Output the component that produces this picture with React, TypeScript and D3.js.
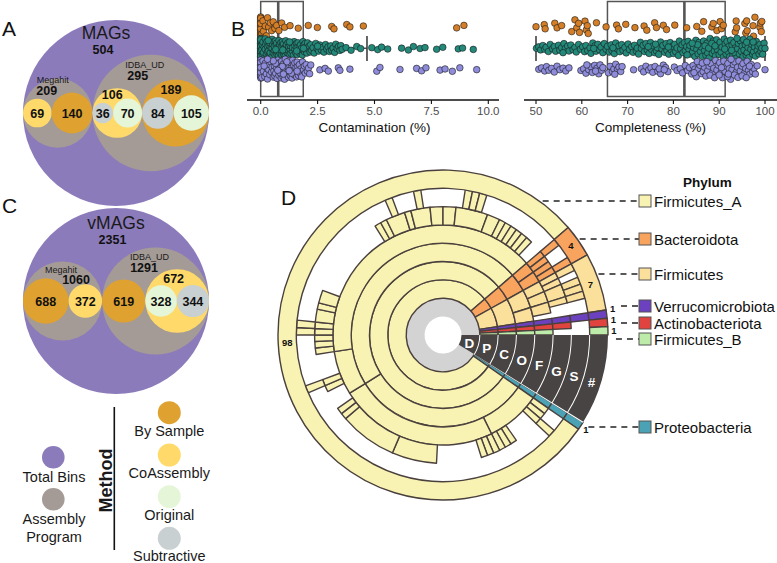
import React from 'react';
import * as d3 from 'd3';

const FONT = "'Liberation Sans', Arial, Helvetica, sans-serif";

// ================= Panels A & C : circle packs =================
const methodColors: Record<string, string> = {
  'By Sample': '#DFA130',
  'CoAssembly': '#FFDA6A',
  'Original': '#E5F6D8',
  'Subtractive': '#C9D0D1',
};
const totalColor = '#8C7BBB';
const programColor = '#A59B96';

const magsMegahit: [string, number][] = [['CoAssembly', 69], ['By Sample', 140]];
const magsIdbaCoAssembly: [string, number][] = [['Subtractive', 36], ['Original', 70]];
const magsIdbaBySample: [string, number][] = [['Subtractive', 84], ['Original', 105]];

const vmagsMegahit: [string, number][] = [['By Sample', 688], ['CoAssembly', 372]];
const vmagsIdbaBySample = 619;
const vmagsIdbaCoAssembly: [string, number][] = [['Original', 328], ['Subtractive', 344]];

const leaf = (key: string, method: string, value: number) => ({ key, kind: 'method', method, value });

const magsTree = {
  key: 'root', kind: 'total', name: 'MAGs',
  children: [
    { key: 'megahit', kind: 'program', name: 'Megahit', children: magsMegahit.map(([m, v], i) => leaf('mh' + i, m, v)) },
    {
      key: 'idba', kind: 'program', name: 'IDBA_UD', children: [
        { key: 'idbaCo', kind: 'method', method: 'CoAssembly', children: magsIdbaCoAssembly.map(([m, v], i) => leaf('ic' + i, m, v)) },
        { key: 'idbaBS', kind: 'method', method: 'By Sample', children: magsIdbaBySample.map(([m, v], i) => leaf('ib' + i, m, v)) },
      ],
    },
  ],
};

const vmagsTree = {
  key: 'root', kind: 'total', name: 'vMAGs',
  children: [
    { key: 'megahit', kind: 'program', name: 'Megahit', children: vmagsMegahit.map(([m, v], i) => leaf('mh' + i, m, v)) },
    {
      key: 'idba', kind: 'program', name: 'IDBA_UD', children: [
        leaf('idbaBS', 'By Sample', vmagsIdbaBySample),
        { key: 'idbaCo', kind: 'method', method: 'CoAssembly', children: vmagsIdbaCoAssembly.map(([m, v], i) => leaf('ic' + i, m, v)) },
      ],
    },
  ],
};

// label offsets (layout only)
const magsLabelPos: Record<string, any> = {
  root: { title: [-10, -74], count: [-13, -59] },
  megahit: { title: [-5, -30], count: [-11, -18] },
  idba: { title: [-6, -45], count: [-13, -33] },
  idbaCo: { count: [-5, -14] },
  idbaBS: { count: [-4.5, -19] },
};
const vmagsLabelPos: Record<string, any> = {
  root: { title: [0, -72], count: [-3.5, -57.5] },
  megahit: { title: [-1.5, -28], count: [13.5, -17] },
  idba: { title: [-6, -41.5], count: [-11.5, -29] },
  idbaCo: { count: [-3.5, -18.5] },
};

function PackPanel({ tree, cx, cy, r, labels }: any) {
  const root = d3.hierarchy(tree).sum((d: any) => d.value ?? 0);
  d3.pack().size([2 * r, 2 * r]).padding(0)(root as any);
  const nodes: any[] = root.descendants();
  const fillOf = (d: any) =>
    d.data.kind === 'total' ? totalColor : d.data.kind === 'program' ? programColor : methodColors[d.data.method];
  return (
    <g transform={`translate(${cx - r},${cy - r})`}>
      {nodes.map((d, i) => (
        <circle key={'c' + i} cx={d.x} cy={d.y} r={d.r} fill={fillOf(d)} />
      ))}
      {nodes.map((d, i) => {
        const lp = labels[d.data.key];
        const isLeaf = !d.children;
        const out: any[] = [];
        if (isLeaf) {
          out.push(
            <text key={'l' + i} x={d.x} y={d.y + 4.5} textAnchor="middle" fontSize={12.5} fontWeight="bold" fill="#111">
              {d.value}
            </text>
          );
        } else if (lp) {
          if (lp.title && d.data.name) {
            const big = d.data.kind === 'total';
            out.push(
              <text key={'t' + i} x={d.x + lp.title[0]} y={d.y + lp.title[1]} textAnchor="middle"
                fontSize={big ? 17.5 : 9} fill="#1a1a1a">
                {d.data.name}
              </text>
            );
          }
          out.push(
            <text key={'n' + i} x={d.x + lp.count[0]} y={d.y + lp.count[1]} textAnchor="middle" fontSize={12.5}
              fontWeight="bold" fill="#111">
              {d.value}
            </text>
          );
        }
        return out;
      })}
    </g>
  );
}

// ================= Legend (bottom left) =================
const legendLeft = [
  { label: ['Total Bins'], color: totalColor },
  { label: ['Assembly', 'Program'], color: programColor },
];
const legendMethods = ['By Sample', 'CoAssembly', 'Original', 'Subtractive'];

function MethodLegend() {
  const leftY = [457.3, 499.3];
  const rightY = [412.7, 455, 496.7, 538.3];
  return (
    <g fontSize={14.5} fill="#1a1a1a">
      {legendLeft.map((d, i) => (
        <g key={i}>
          <circle cx={53.3} cy={leftY[i]} r={11.3} fill={d.color} />
          {d.label.map((t, j) => (
            <text key={j} x={54} y={leftY[i] + 24.5 + j * 18} textAnchor="middle">{t}</text>
          ))}
        </g>
      ))}
      <line x1={114.3} x2={114.3} y1={407} y2={550} stroke="#111" strokeWidth={1.6} />
      <text transform="translate(111.5,480.5) rotate(-90)" textAnchor="middle" fontSize={18} fontWeight="bold">Method</text>
      {legendMethods.map((m, i) => (
        <g key={m}>
          <circle cx={169.3} cy={rightY[i]} r={11.5} fill={methodColors[m]} />
          <text x={169.3} y={rightY[i] + 23} textAnchor="middle">{m}</text>
        </g>
      ))}
    </g>
  );
}

// ================= Panel B : strip plots =================
const rowColors = ['#D47E27', '#23897A', '#8E8CDB'];

const contamOrange = [
  0, 0, 0, 0, 0, 0, 0, 0, 0, 0, 0, 0, 0, 0, 0, 0, 0, 0, 0, 0, 0, 0, 0, 0, 0, 0,
  0.05, 0.1, 0.12, 0.2, 0.25, 0.3, 0.35, 0.42, 0.48, 0.55, 0.62, 0.7, 0.8, 0.92, 1.05, 1.29, 1.65,
  2.09, 2.49, 3.12, 3.22, 3.78, 3.92, 4.51, 8.61, 8.93,
];
const contamTeal = [
  0, 0, 0, 0, 0, 0, 0, 0, 0, 0, 0, 0, 0, 0, 0, 0, 0, 0, 0, 0,
  0, 0, 0, 0, 0, 0, 0, 0, 0, 0, 0, 0, 0, 0, 0, 0, 0, 0, 0, 0,
  0.05, 0.07, 0.1, 0.1, 0.12, 0.15, 0.17, 0.2, 0.2, 0.22, 0.25, 0.27, 0.3, 0.3, 0.32, 0.35, 0.37, 0.4, 0.4, 0.42,
  0.45, 0.47, 0.5, 0.5, 0.52, 0.55, 0.58, 0.6, 0.6, 0.63, 0.65, 0.68, 0.7, 0.7, 0.72, 0.75, 0.78, 0.8, 0.8, 0.83,
  0.85, 0.88, 0.9, 0.9, 0.93, 0.95, 0.98, 1.0, 1.0, 1.03, 1.05, 1.08, 1.1, 1.1, 1.13, 1.16, 1.2, 1.2, 1.23, 1.26,
  1.3, 1.3, 1.33, 1.36, 1.4, 1.4, 1.44, 1.47, 1.5, 1.5, 1.54, 1.57, 1.6, 1.6, 1.64, 1.67, 1.7, 1.72, 1.75, 1.78,
  1.8, 1.83, 1.86, 1.9, 1.92, 1.95, 1.98, 2.0, 2.03, 2.06, 2.1, 2.13, 2.17, 2.2, 0.33, 0.66, 0.97, 1.27, 1.58, 1.88,
  2.24, 2.3, 2.35, 2.42, 2.48, 2.55, 2.6, 2.66, 2.72, 2.78, 2.85, 2.9, 2.96, 3.02, 3.08, 3.12, 3.18, 3.25, 3.3, 3.36,
  3.42, 3.48, 3.52, 3.58, 2.5,
  3.75, 3.97, 4.22, 4.39, 4.88, 5.14, 5.31, 5.58, 6.19, 6.49, 6.71, 7.0, 7.22, 7.73, 8.0, 8.68, 8.87, 9.34,
];
const contamPurple = [
  0, 0, 0, 0, 0, 0, 0, 0, 0, 0, 0, 0, 0, 0, 0, 0, 0, 0, 0, 0, 0, 0,
  0.05, 0.1, 0.12, 0.18, 0.2, 0.25, 0.28, 0.3, 0.35, 0.38, 0.4, 0.45, 0.48, 0.5, 0.55, 0.58, 0.6, 0.62, 0.66, 0.7,
  0.72, 0.75, 0.78, 0.8, 0.83, 0.86, 0.9, 0.92, 0.95, 0.98, 1.0, 1.02, 1.05, 1.08, 1.1, 1.12, 1.15, 1.18, 1.2, 1.22,
  1.25, 1.28, 1.3, 1.33, 1.36, 1.38, 1.4, 1.42, 1.45, 1.48, 1.5, 1.52, 1.55, 1.58, 1.6, 1.63, 1.66, 1.7, 1.73, 1.76,
  1.8, 1.84, 1.88, 1.92, 1.96, 2.0, 2.05, 2.1, 2.15, 2.2, 0.65, 0.85, 1.0, 1.15, 1.35, 0.55, 0.3, 1.6, 1.25, 0.95,
  0.75, 0.15,
  2.6, 2.83, 2.97, 3.41, 3.48, 3.92, 5.1, 5.24, 6.12, 6.85, 7.07, 7.26, 7.88, 8.1, 8.42, 8.75, 9.49,
];

const complOrange = [
  50.0, 51.8, 52.0, 54.1, 54.6, 55.6, 57.8, 58.5, 58.9, 59.5, 59.3, 60.7, 61.0, 61.4, 61.2, 63.2, 65.3, 67.6, 68.0,
  69.6, 71.6, 73.6, 74.2, 75.9, 76.3, 77.8, 78.5, 80.3, 82.9, 85.1, 86.2, 86.6, 88.4, 88.7, 89.5, 90.2, 90.5, 90.9,
  93.5, 93.8, 93.7, 95.6, 96.0, 95.8, 96.1, 97.5, 97.8, 97.4, 98.9, 99.2, 99.0, 99.3,
];
const complTeal = [
  50.1, 50.6, 51.0, 51.5, 51.9, 52.2, 52.7, 53.1, 53.6, 54.0, 54.3, 54.9, 55.2, 55.6, 56.1, 56.4, 56.9, 57.2, 57.6,
  58.1, 58.5, 58.8, 59.3, 59.7, 55.9,
  60.2, 60.6, 60.9, 61.3, 61.8, 62.0, 62.4, 62.9, 63.1, 63.5, 63.9, 64.2, 64.6, 64.9, 65.3, 65.6, 66.0, 66.4, 66.6,
  67.1, 67.4, 67.7, 68.1, 68.3, 68.7, 69.0, 69.4, 69.7, 62.6, 66.8,
  70.1, 70.4, 70.9, 71.2, 71.5, 71.9, 72.1, 72.4, 72.8, 73.0, 73.4, 73.7, 74.0, 74.3, 74.7, 75.0, 75.2, 75.6, 75.9,
  76.3, 76.5, 76.8, 77.2, 77.5, 77.7, 78.1, 78.4, 78.6, 79.0, 79.3, 79.5, 79.8, 74.5, 76.1, 78.9,
  80.0, 80.3, 80.5, 80.8, 81.1, 81.3, 81.6, 81.9, 82.1, 82.4, 82.6, 82.9, 83.2, 83.4, 83.6, 83.9, 84.2, 84.4, 84.7,
  84.9, 85.1, 85.4, 85.6, 85.9, 86.1, 86.3, 86.6, 86.8, 87.1, 87.3, 87.5, 87.8, 88.0, 88.2, 88.5, 88.7, 88.9, 89.2,
  89.4, 89.6, 89.9, 83.0, 85.3, 86.9, 87.7, 88.4, 89.1, 84.1,
  90.0, 90.2, 90.4, 90.6, 90.9, 91.1, 91.3, 91.5, 91.7, 91.9, 92.1, 92.3, 92.5, 92.8, 93.0, 93.2, 93.4, 93.6, 93.8,
  94.0, 94.2, 94.4, 94.6, 94.8, 95.0, 95.2, 95.4, 95.7, 95.9, 96.1, 96.3, 96.5, 96.7, 96.9, 97.1, 97.3, 97.5, 97.7,
  97.9, 98.1, 98.3, 98.5, 98.7, 98.9, 99.1, 99.3, 99.5, 99.8, 100.0, 91.2, 92.7, 93.9, 95.3, 96.0, 97.4,
];
const complPurple = [
  50.6, 51.2, 51.9, 52.3, 52.8, 53.4, 54.0, 54.6, 55.2, 55.9, 56.5, 57.2,
  59.8, 60.4, 60.9, 61.5, 62.0, 62.3, 62.8, 63.3, 63.7, 64.0, 64.3, 64.6, 61.1, 63.0,
  65.8, 66.2, 66.7, 67.0, 67.4, 67.8, 68.1, 68.5, 68.8, 67.2,
  71.3,
  73.0, 73.5, 74.0, 74.6, 75.1, 75.5, 76.0, 76.6, 77.2, 77.8, 78.3, 78.8, 76.9, 78.0,
  80.2, 80.8, 81.5, 82.0, 82.6, 83.1, 83.5, 84.0, 84.3, 84.7, 85.0, 85.4, 85.8, 86.1, 86.5, 86.8, 87.1, 87.5, 87.8,
  88.2, 88.5, 88.8, 89.2, 89.5, 89.8, 90.1, 90.4, 90.7, 91.0, 91.3, 91.6, 91.9, 92.2, 92.5, 92.8, 93.1, 93.4, 93.7,
  94.0, 94.3, 94.6, 94.9, 95.2, 95.5, 95.8, 96.1, 96.4, 96.7, 97.0, 97.3, 97.6, 97.9, 85.2, 86.3, 87.3, 88.0, 89.0,
  90.5, 91.8, 92.6, 93.3, 94.1, 95.0, 95.9, 96.6, 98.3, 100.0, 84.5, 90.0, 92.0,
];

// box statistics: [q1, median, q3, whiskerLow, whiskerHigh]
const contamBox = [0, 0.77, 1.87, 0, 4.67];
const complBox = [65.6, 82.4, 91.3, 50, 100];
const contamTicks = [0, 2.5, 5, 7.5, 10];
const complTicks = [50, 60, 70, 80, 90, 100];

function vdc(n: number) {
  let v = 0, denom = 1;
  while (n > 0) { denom *= 2; v += (n % 2) / denom; n = Math.floor(n / 2); }
  return v;
}

function quasiOffsets(px: number[], halfWidth: number, bw: number, power: number) {
  const dens = px.map((p) => d3.sum(px, (q) => Math.exp(-0.5 * ((p - q) / bw) ** 2)));
  const maxD = d3.max(dens) as number;
  const order = d3.range(px.length).sort((a, b) => px[a] - px[b]);
  const off = new Array(px.length).fill(0);
  order.forEach((idx, rank) => {
    off[idx] = (vdc(rank + 1) * 2 - 1) * halfWidth * Math.pow(dens[idx] / maxD, power);
  });
  return off;
}

function StripPanel({ rows, domain, range, axisX, ticks, fmt, box, title, power }: any) {
  const x = d3.scaleLinear().domain(domain).range(range);
  const rowY = [26.7, 48.3, 69.3];
  const axisY = 100;
  const [q1, med, q3, wLo, wHi] = box;
  return (
    <g>
      <line x1={x(wLo)} x2={x(q1)} y1={rowY[1]} y2={rowY[1]} stroke="#555" strokeWidth={1.4} />
      <line x1={x(q3)} x2={x(wHi)} y1={rowY[1]} y2={rowY[1]} stroke="#555" strokeWidth={1.4} />
      <line x1={x(wLo)} x2={x(wLo)} y1={36} y2={61} stroke="#333" strokeWidth={1.5} />
      <line x1={x(wHi)} x2={x(wHi)} y1={36} y2={61} stroke="#333" strokeWidth={1.5} />
      <rect x={x(q1)} y={1.5} width={x(q3) - x(q1)} height={95} fill="none" stroke="#555" strokeWidth={1.5} />
      <line x1={x(med)} x2={x(med)} y1={1.5} y2={96.5} stroke="#555" strokeWidth={2.6} />
      {rows.map((vals: number[], ri: number) => {
        const px = vals.map((v) => x(v));
        const off = quasiOffsets(px, 10.5, 7, power);
        return (
          <g key={ri}>
            {px.map((p, i) => (
              <circle key={i} cx={p} cy={rowY[ri] + off[i]} r={3.3} fill={rowColors[ri]} stroke="#1a1a1a" strokeWidth={0.6} />
            ))}
          </g>
        );
      })}
      <line x1={axisX[0]} x2={axisX[1]} y1={axisY} y2={axisY} stroke="#111" strokeWidth={1.3} />
      {ticks.map((t: number) => (
        <g key={t}>
          <line x1={x(t)} x2={x(t)} y1={axisY} y2={axisY + 4} stroke="#111" strokeWidth={1.1} />
          <text x={x(t)} y={115} textAnchor="middle" fontSize={11.5} fill="#4d4d4d">{fmt(t)}</text>
        </g>
      ))}
      <text x={(range[0] + range[1]) / 2} y={132} textAnchor="middle" fontSize={13.5} fill="#111">{title}</text>
    </g>
  );
}

// ================= Panel D : taxonomy sunburst =================
const phylumNames = ['Proteobacteria', 'Firmicutes_A', 'Bacteroidota', 'Firmicutes', 'Verrucomicrobiota', 'Actinobacteriota', 'Firmicutes_B'];
const phylumColors = ['#4AA2B4', '#F8F2B3', '#F9A45E', '#FBE09C', '#6B41BF', '#E1443F', '#BDEBAA'];
// nested arrays = named taxa (phylum > class > order > family > genus > species); numbers = genomes unresolved below
const treeProteobacteria = [[[[[[1]]]]]];
const treeFirmicutesA = [[
  [
    [[1], [1], [[1]], 4, [1], [1], [1]],
    [[1], [1], [1], 7, [7], [9], [1], [1], 1],
  ],
  [
    [2, [1], [[1]], 4],
    [[1], [1], [1], [[1]], [[1]], [2], [1], [2], 13, [1], [1], [1, [1], 1], [1], [1, [1], 1], [2], [2],
      [1, [1], [1], [1], 1], [2], [1], [1], [1], [1], [1], [1], 2],
  ],
]];
const treeBacteroidota = [[[[[[1]], [1]], [[1], [[1]]]]]];
const treeFirmicutes = [[
  [[[[1]], [1]], [[[1], [1]]]],
  [[[[1]], 1], 1],
]];
const treeVerrucomicrobiota = [[[[[[1]]]]]];
const treeActinobacteriota = [[[[[1]]]]];
const treeFirmicutesB = [[[[1]]]];
const phylumTrees = [treeProteobacteria, treeFirmicutesA, treeBacteroidota, treeFirmicutes, treeVerrucomicrobiota, treeActinobacteriota, treeFirmicutesB];
const rankLabels = ['D', 'P', 'C', 'O', 'F', 'G', 'S', '#'];
const legendOrder = ['Firmicutes_A', 'Bacteroidota', 'Firmicutes', 'Verrucomicrobiota', 'Actinobacteriota', 'Firmicutes_B', 'Proteobacteria'];

function Sunburst() {
  const cx = 443, cy = 335;
  const rScale = d3.scaleLinear().domain([0, 8]).range([18.5, 165]);
  const root: any = d3.hierarchy(phylumTrees as any, (d: any) => (Array.isArray(d) ? d : null))
    .sum((d: any) => (typeof d === 'number' ? d : 0));
  const total = root.value;
  d3.partition().size([total, 8])(root);
  const keyUnits = 11;
  const a0 = Math.PI / 2 + (2 * Math.PI * keyUnits) / (total + keyUnits);
  const angle = d3.scaleLinear().domain([0, total]).range([a0, Math.PI / 2 + 2 * Math.PI]);
  const arc = d3.arc<any>();
  const stroke = '#4A403D';
  const cells = root.descendants().filter((d: any) => d.depth >= 1 && Array.isArray(d.data));
  const phyla: any[] = root.children;
  const phylumIdx = (d: any) => phyla.indexOf(d.ancestors().find((a: any) => a.depth === 1));
  const pt = (r: number, a: number) => [cx + r * Math.sin(a), cy - r * Math.cos(a)];
  const R = 167;
  const legendY = [201, 239, 274, 306, 323, 339, 427];
  const keyMid = (Math.PI / 2 + a0) / 2 + 0.03;

  const countLabels = phyla.map((p: any, i: number) => {
    const am = angle((p.x0 + p.x1) / 2);
    const single = p.value === 1;
    const [tx, ty] = pt(single ? 171 : (rScale(7) + rScale(8)) / 2, am);
    return { i, x: tx, y: ty, single, v: p.value };
  });
  const singles = countLabels.filter((l) => l.single).sort((a, b) => b.y - a.y);
  for (let k = 1; k < singles.length; k++) {
    if (singles[k - 1].y - singles[k].y < 11) singles[k].y = singles[k - 1].y - 11;
  }

  return (
    <g>
      <g transform={`translate(${cx},${cy})`}>
        <path d={arc({ innerRadius: rScale(0), outerRadius: rScale(1), startAngle: angle(0), endAngle: angle(total) }) as string} fill="#D3D3D3" />
        {cells.map((d: any, i: number) => (
          <path key={i}
            d={arc({ innerRadius: rScale(d.depth), outerRadius: rScale(d.depth + 1), startAngle: angle(d.x0), endAngle: angle(d.x1) }) as string}
            fill={phylumColors[phylumIdx(d)]} stroke={stroke} strokeWidth={1.4} strokeLinejoin="round" />
        ))}
        {phyla.map((p: any, i: number) => (
          <path key={'h' + i}
            d={arc({ innerRadius: rScale(7), outerRadius: rScale(8), startAngle: angle(p.x0), endAngle: angle(p.x1) }) as string}
            fill={phylumColors[i]} stroke={stroke} strokeWidth={1.4} strokeLinejoin="round" />
        ))}
        <path d={arc({ innerRadius: rScale(0), outerRadius: rScale(8), startAngle: Math.PI / 2, endAngle: a0 }) as string} fill="#474443" />
        {d3.range(1, 8).map((k) => (
          <path key={'w' + k}
            d={arc({ innerRadius: rScale(k) - 0.5, outerRadius: rScale(k) + 0.5, startAngle: Math.PI / 2, endAngle: a0 }) as string}
            fill="#fff" />
        ))}
        <path d={arc({ innerRadius: rScale(0), outerRadius: rScale(8), startAngle: a0 - 0.004, endAngle: a0 + 0.004 }) as string} fill="#fff" />
        {rankLabels.map((l, k) => {
          const rr = (rScale(k) + rScale(k + 1)) / 2;
          return (
            <text key={'r' + k} x={rr * Math.sin(keyMid)} y={-rr * Math.cos(keyMid) + 4.5} textAnchor="middle"
              fill="#fff" fontWeight="bold" fontSize={13.5}>{l}</text>
          );
        })}
      </g>
      {countLabels.map((l) => (
        <text key={'cl' + l.i} x={l.x} y={l.y + 3.5} textAnchor="middle" fontSize={9.5} fontWeight="bold" fill="#111">
          {l.v}
        </text>
      ))}
      <text x={683} y={187} fontSize={13.5} fontWeight="bold" fill="#111">Phylum</text>
      {legendOrder.map((name, j) => {
        const i = phylumNames.indexOf(name);
        const p = phyla[i];
        const y = legendY[j];
        const dy = y - cy;
        const x0 = p.value === 1 && dy < 0 ? cx + 178 : cx + Math.sqrt(Math.max(0, R * R - dy * dy)) + (p.value === 1 ? 6 : 0);
        return (
          <g key={name}>
            <line x1={x0} x2={639} y1={y} y2={y} stroke="#222" strokeWidth={1.5} strokeDasharray="6,5" />
            <rect x={639} y={y - 6} width={12} height={12} fill={phylumColors[i]} stroke="#555" strokeWidth={1} />
            <text x={654} y={y + 5.5} fontSize={15} fill="#111">{name}</text>
          </g>
        );
      })}
    </g>
  );
}

export default function App() {
  return (
    <svg width={777} height={563} viewBox="0 0 777 563"
      style={{ position: 'absolute', left: 0, top: 0, background: '#fff' }} fontFamily={FONT}>
      <rect width={777} height={563} fill="#fff" />
      <PackPanel tree={magsTree} cx={116} cy={113} r={93} labels={magsLabelPos} />
      <PackPanel tree={vmagsTree} cx={116} cy={301} r={93} labels={vmagsLabelPos} />
      <MethodLegend />
      <StripPanel rows={[contamOrange, contamTeal, contamPurple]} domain={[0, 10]} range={[260.7, 488.3]}
        axisX={[247, 499]} ticks={contamTicks} fmt={d3.format('.1f')} box={contamBox} title="Contamination (%)" power={0.55} />
      <StripPanel rows={[complOrange, complTeal, complPurple]} domain={[50, 100]} range={[536, 765]}
        axisX={[524, 777]} ticks={complTicks} fmt={d3.format('d')} box={complBox} title="Completeness (%)" power={1.0} />
      <Sunburst />
      <g fontSize={21} fill="#111">
        <text x={2} y={36}>A</text>
        <text x={231} y={36}>B</text>
        <text x={2} y={213}>C</text>
        <text x={281} y={205}>D</text>
      </g>
    </svg>
  );
}
